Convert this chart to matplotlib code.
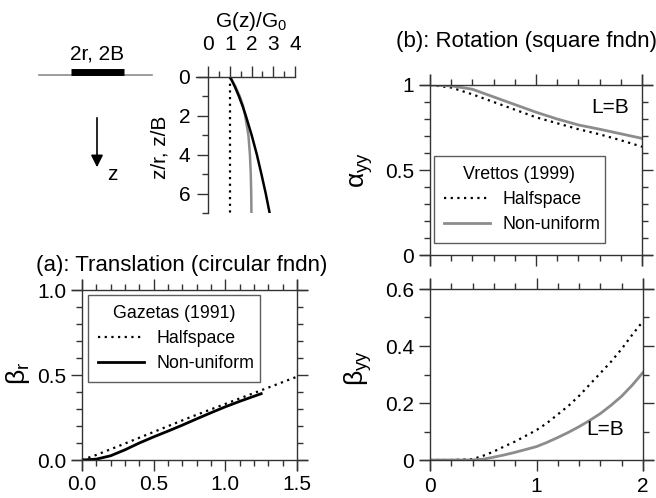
import matplotlib
matplotlib.use("Agg")
import matplotlib.pyplot as plt
from matplotlib.ticker import MultipleLocator

plt.rcParams['font.family'] = ['Liberation Sans', 'DejaVu Sans']
plt.rcParams['mathtext.fontset'] = 'custom'
plt.rcParams['mathtext.rm'] = 'Liberation Sans'
plt.rcParams['mathtext.it'] = 'Liberation Sans:italic'
plt.rcParams['mathtext.bf'] = 'Liberation Sans:bold'

GREY = '#8c8c8c'
SPINE = '#333333'
FS = 15      # tick text
FL = 12.8    # legend text
FT = 16      # titles
FG = 19      # greek axis labels

# ---------------- data ----------------
# Stiffness profile inset
prof_z = [0, 0.5, 1, 1.5, 2, 3, 4, 5, 6, 7]
prof_half = [1, 1, 1, 1, 1, 1, 1, 1, 1, 1]
prof_grey = [1, 1.25, 1.45, 1.6, 1.7, 1.85, 1.92, 1.96, 1.98, 1.99]
prof_black = [1, 1.22, 1.41, 1.58, 1.73, 2.0, 2.24, 2.45, 2.65, 2.83]

# (a) translation
a_x_half = [0, 0.1, 0.25, 0.5, 0.75, 1.0, 1.25, 1.5]
a_y_half = [0, 0.03, 0.08, 0.165, 0.25, 0.33, 0.41, 0.49]
a_x_non = [0, 0.1, 0.2, 0.3, 0.4, 0.5, 0.6, 0.7, 0.8, 0.9, 1.0, 1.1, 1.2, 1.25]
a_y_non = [0, 0.005, 0.025, 0.06, 0.1, 0.136, 0.17, 0.205, 0.242, 0.278, 0.313, 0.345, 0.375, 0.39]

# (b) rotation alpha_yy
b_x = [0, 0.2, 0.4, 0.6, 0.8, 1.0, 1.2, 1.4, 1.6, 1.8, 2.0]
b_alpha_half = [1.0, 0.985, 0.945, 0.9, 0.855, 0.81, 0.775, 0.74, 0.71, 0.675, 0.637]
b_alpha_non = [1.0, 0.995, 0.975, 0.93, 0.885, 0.84, 0.80, 0.765, 0.74, 0.713, 0.686]

# (b) rotation beta_yy
c_x = [0, 0.2, 0.4, 0.5, 0.6, 0.7, 0.8, 0.9, 1.0, 1.1, 1.2, 1.3, 1.4,
       1.5, 1.6, 1.7, 1.8, 1.9, 2.0]
c_beta_half = [0, 0.0, 0.003, 0.015, 0.03, 0.048, 0.065, 0.085, 0.105, 0.13,
               0.16, 0.19, 0.225, 0.265, 0.305, 0.345, 0.39, 0.44, 0.487]
c_beta_non = [0, 0.0, 0.0, 0.003, 0.01, 0.018, 0.027, 0.037, 0.047, 0.062,
              0.079, 0.097, 0.117, 0.139, 0.163, 0.192, 0.224, 0.263, 0.307]

fig = plt.figure(figsize=(6.56, 4.98), dpi=100)
W, H = 656, 498


def rect(x0, y0, x1, y1):
    # pixel box (x0 left, y0 top, x1 right, y1 bottom) -> figure fraction
    return [x0 / W, 1 - y1 / H, (x1 - x0) / W, (y1 - y0) / H]


def style(ax, ext_px=10, sides=('left', 'right', 'top', 'bottom')):
    for s in ax.spines.values():
        s.set_color(SPINE)
        s.set_linewidth(1.0)
    x0, x1 = ax.get_xlim()
    y0, y1 = ax.get_ylim()
    bb = ax.get_position()
    dx = (x1 - x0) / (bb.width * W) * ext_px
    dy = (y1 - y0) / (bb.height * H) * ext_px
    for s in ('top', 'bottom'):
        if s in sides:
            ax.spines[s].set_bounds(x0 - dx, x1 + (dx if 'right' in sides else 0))
    for s in ('left', 'right'):
        if s in sides:
            ax.spines[s].set_bounds(y0 - dy, y1 + dy)
    ax.tick_params(which='major', direction='out', length=8, width=1.0,
                   color=SPINE, labelsize=FS)
    ax.tick_params(which='minor', direction='out', length=4, width=1.0,
                   color=SPINE)


def legend(ax, title, box):
    lg = ax.legend(title=title, loc='upper left', bbox_to_anchor=box,
                   mode='expand', borderaxespad=0, fontsize=FL,
                   title_fontsize=FL, fancybox=False, frameon=True,
                   handlelength=2.6, handletextpad=0.7, borderpad=0.55,
                   labelspacing=0.45)
    lg.get_frame().set_edgecolor(SPINE)
    lg.get_frame().set_linewidth(1.0)
    return lg


# ---------------- overlay for schematic ----------------
ov = fig.add_axes([0, 0, 1, 1])
ov.set_xlim(0, W)
ov.set_ylim(H, 0)
ov.axis('off')
ov.plot([39, 152], [75, 75], color=GREY, lw=1.2)
ov.plot([71, 124], [72, 72], color='black', lw=5, solid_capstyle='butt')
ov.text(97, 54, '2r, 2B', ha='center', va='center', fontsize=FS)
ov.annotate('', xy=(97, 170), xytext=(97, 115),
            arrowprops=dict(arrowstyle='-|>', color='black', lw=1.2,
                            mutation_scale=18))
ov.text(112, 174, 'z', ha='center', va='center', fontsize=FS)

# ---------------- inset profile ----------------
axp = fig.add_axes(rect(208.3, 76.7, 295, 213))
axp.plot(prof_half, prof_z, color='black', lw=1.6, ls=(0, (1, 2)))
axp.plot(prof_grey, prof_z, color=GREY, lw=1.8)
axp.plot(prof_black, prof_z, color='black', lw=1.8)
axp.set_xlim(0, 4)
axp.set_ylim(7, 0)
axp.xaxis.tick_top()
axp.xaxis.set_label_position('top')
axp.spines['right'].set_visible(False)
axp.spines['bottom'].set_visible(False)
axp.set_xticks([0, 1, 2, 3, 4])
axp.xaxis.set_minor_locator(MultipleLocator(0.5))
axp.set_yticks([0, 2, 4, 6])
axp.yaxis.set_minor_locator(MultipleLocator(1))
axp.patch.set_alpha(0)
style(axp, ext_px=12, sides=('left', 'top'))
axp.spines['left'].set_bounds(7, 0)
axp.tick_params(axis='x', which='both', top=True, bottom=False)
axp.tick_params(axis='x', pad=8)
axp.tick_params(axis='y', pad=5)
axp.set_xlabel('G(z)/G$_0$', fontsize=FS, labelpad=6)
fig.text(160 / W, 1 - 147 / H, 'z/r, z/B', rotation=90, ha='center',
         va='center', fontsize=FS)

# ---------------- (a) translation ----------------
axa = fig.add_axes(rect(82, 290, 297, 460))
axa.plot(a_x_half, a_y_half, color='black', lw=1.6, ls=(0, (1, 2)),
         label='Halfspace', clip_on=False)
axa.plot(a_x_non, a_y_non, color='black', lw=2.0, label='Non-uniform')
axa.set_xlim(0, 1.5)
axa.set_ylim(0, 1.0)
axa.set_xticks([0, 0.5, 1.0, 1.5])
axa.set_xticklabels(['0.0', '0.5', '1.0', '1.5'])
axa.set_yticks([0, 0.5, 1.0])
axa.set_yticklabels(['0.0', '0.5', '1.0'])
axa.xaxis.set_minor_locator(MultipleLocator(0.1))
axa.yaxis.set_minor_locator(MultipleLocator(0.1))
axa.tick_params(which='both', top=True, right=True)
style(axa)
axa.tick_params(axis='x', pad=3)
legend(axa, 'Gazetas (1991)', (0.028, 0.43, 0.80, 0.54))
fig.text(182 / W, 1 - 265 / H, '(a): Translation (circular fndn)',
         ha='center', va='center', fontsize=FT)
fig.text(18 / W, 1 - 373 / H, r'$\mathrm{\beta_{r}}$', rotation=90,
         ha='center', va='center', fontsize=FG)

# ---------------- (b) rotation alpha ----------------
axb = fig.add_axes(rect(430, 85, 642, 255))
axb.plot(b_x, b_alpha_half, color='black', lw=1.6, ls=(0, (1, 2)),
         label='Halfspace')
axb.plot(b_x, b_alpha_non, color=GREY, lw=2.0, label='Non-uniform')
axb.set_xlim(0, 2)
axb.set_ylim(0, 1)
axb.set_xticks([0, 1, 2])
axb.set_yticks([0, 0.5, 1])
axb.set_yticklabels(['0', '0.5', '1'])
axb.xaxis.set_minor_locator(MultipleLocator(0.2))
axb.yaxis.set_minor_locator(MultipleLocator(0.1))
axb.tick_params(which='both', top=True, right=True)
style(axb)
axb.tick_params(axis='x', labelbottom=False)
axb.text(0.85, 0.87, 'L=B', transform=axb.transAxes, ha='center',
         va='center', fontsize=FS)
legend(axb, 'Vrettos (1999)', (0.019, 0.04, 0.806, 0.542))
fig.text(527 / W, 1 - 42 / H, '(b): Rotation (square fndn)',
         ha='center', va='center', fontsize=FT)
fig.text(362 / W, 1 - 170 / H, r'$\mathrm{\alpha_{yy}}$', rotation=90,
         ha='center', va='center', fontsize=FG)

# ---------------- (b) rotation beta ----------------
axc = fig.add_axes(rect(430, 289, 643, 460))
axc.plot(c_x, c_beta_half, color='black', lw=1.6, ls=(0, (1, 2)))
axc.plot(c_x, c_beta_non, color=GREY, lw=2.0)
axc.set_xlim(0, 2)
axc.set_ylim(0, 0.6)
axc.set_xticks([0, 1, 2])
axc.set_yticks([0, 0.2, 0.4, 0.6])
axc.set_yticklabels(['0', '0.2', '0.4', '0.6'])
axc.xaxis.set_minor_locator(MultipleLocator(0.2))
axc.yaxis.set_minor_locator(MultipleLocator(0.1))
axc.tick_params(which='both', top=True, right=True)
style(axc)
axc.tick_params(axis='x', pad=4)
axc.text(0.82, 0.18, 'L=B', transform=axc.transAxes, ha='center',
         va='center', fontsize=FS)
fig.text(358 / W, 1 - 368 / H, r'$\mathrm{\beta_{yy}}$', rotation=90,
         ha='center', va='center', fontsize=FG)

fig.savefig('out.png', dpi=100)
